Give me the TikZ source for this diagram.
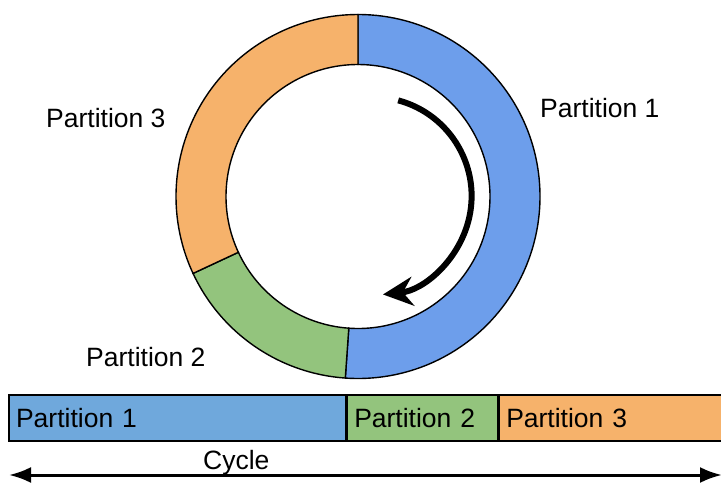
\documentclass[tikz,border=0pt]{standalone}
\usepackage{fontspec}
\setmainfont{Liberation Sans}
\usetikzlibrary{arrows.meta}
\definecolor{ringblue}{HTML}{6D9EEB}
\definecolor{barblue}{HTML}{6FA8DC}
\definecolor{partgreen}{HTML}{93C47D}
\definecolor{partorange}{HTML}{F6B26B}
\newcommand{\ringpart}[3]{%
  \filldraw[fill=#3, draw=black, line width=1.4pt]
    (c) ++(#1:182pt) arc (#1:#2:182pt) -- ++(#2:-50pt) arc (#2:#1:132pt) -- cycle;}
\tikzset{
  lbl/.style={font=\fontsize{26.5}{31}\selectfont, inner sep=0pt, anchor=base west},
  barpart/.style={draw, line width=1.5pt, minimum height=46pt, inner xsep=7pt,
    inner ysep=0pt, align=left, anchor=south west, font=\fontsize{26.5}{31}\selectfont}
}
\begin{document}
\begin{tikzpicture}[x=1pt, y=1pt]
    \useasboundingbox (0,0) rectangle (721,483);
    \clip (0,0) rectangle (721,483);
    % ring
    \coordinate (c) at (358,286.5);
    \ringpart{90}{-94}{ringblue}
    \ringpart{-94}{-155}{partgreen}
    \ringpart{-155}{-270}{partorange}
    \draw[line width=6pt, -{Stealth[length=30pt, width=29pt, inset=10pt]}]
        (372.6,287) ++(75:99pt) arc (75:-84:99pt);
    \node[lbl] (ring1) at (540,365) {Partition 1};
    \node[lbl] (ring3) at (46,355) {Partition 3};
    \node[lbl] (ring2) at (86,116.3) {Partition 2};
    % bar
    \node[barpart, fill=barblue, text width=322.7pt] (bar1) at (8.3,41.3) {Partition 1};
    \node[barpart, fill=partgreen, text width=136.5pt] (bar2) at (bar1.south east) {Partition 2};
    \node[barpart, fill=partorange, text width=227pt] (bar3) at (bar2.south east) {Partition 3};
    % cycle
    \coordinate (cycL) at (9,8);
    \coordinate (cycR) at (722,8);
    \draw[line width=3pt, {Latex[length=22pt, width=16pt]}-{Latex[length=22pt, width=16pt]}] (cycL) -- (cycR);
    \node[lbl] (cyc) at (203,13.7) {Cycle};
\end{tikzpicture}
\end{document}
